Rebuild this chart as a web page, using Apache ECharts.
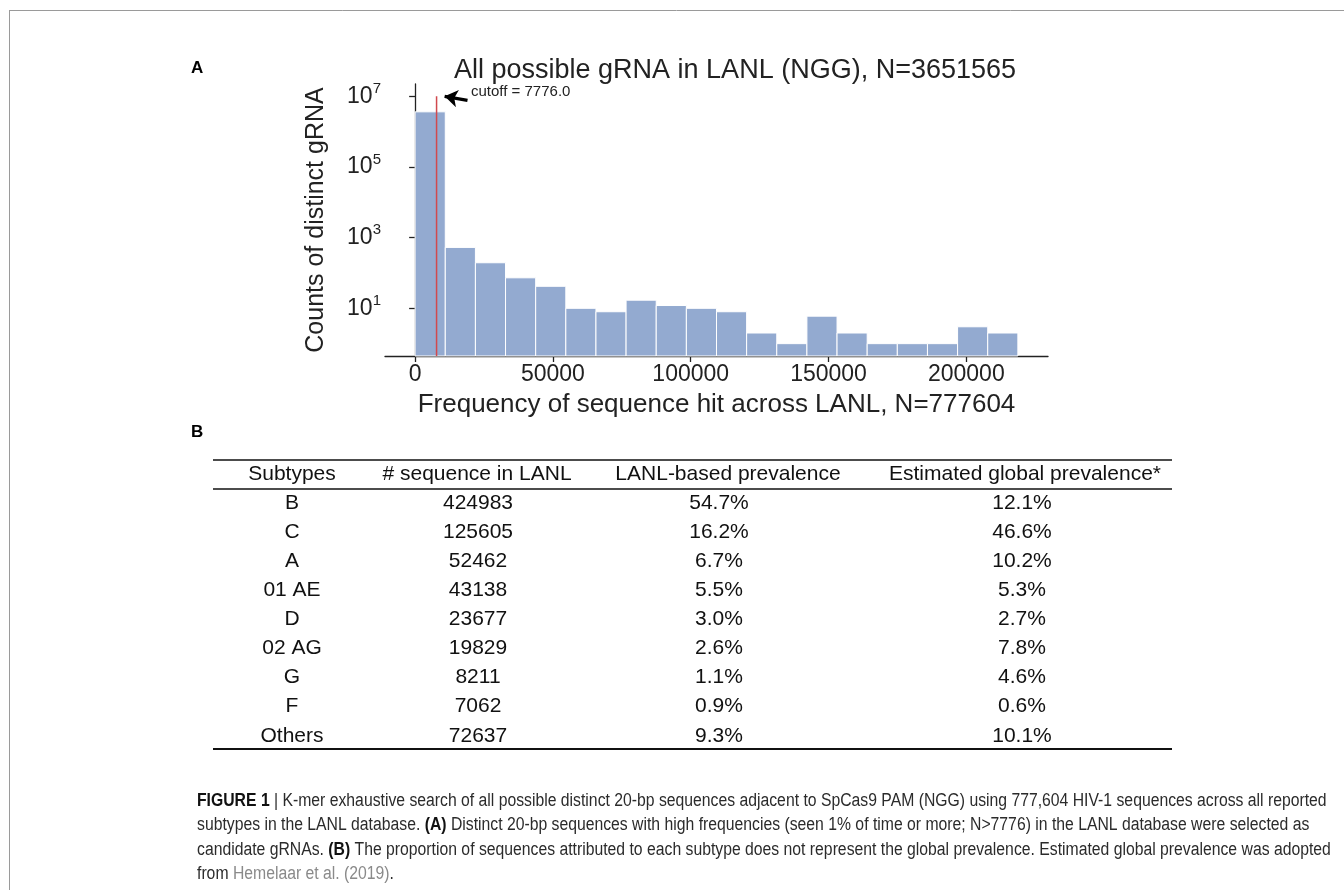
<!DOCTYPE html>
<html>
<head>
<meta charset="utf-8">
<script src="https://cdn.jsdelivr.net/npm/echarts@6/dist/echarts.min.js"></script>
<style>
html,body{margin:0;padding:0;background:#fff;}
#c{width:1344px;height:890px;}
</style>
</head>
<body>
<div id="c"></div>
<script>
// ---- Panel A: histogram data ----
const binStarts = [0, 10935, 21870, 32805, 43740, 54675, 65610, 76545, 87480, 98415,
                   109350, 120285, 131220, 142155, 153090, 164025, 174960, 185895, 196830, 207765];
const binEnds   = [10935, 21870, 32805, 43740, 54675, 65610, 76545, 87480, 98415, 109350,
                   120285, 131220, 142155, 153090, 164025, 174960, 185895, 196830, 207765, 218700];
const binCounts = [3650641, 530, 195, 73, 42, 10, 8, 17, 12, 10,
                   8, 2, 1, 6, 2, 1, 1, 1, 3, 2];
const cutoff = 7776.0;
const xTickValues = [0, 50000, 100000, 150000, 200000];
const yTickValues = [10, 1000, 100000, 10000000];

// ---- Panel B: table data ----
const tableHeader = ['Subtypes', '# sequence in LANL', 'LANL-based prevalence', 'Estimated global prevalence*'];
const subtypes   = ['B', 'C', 'A', '01 AE', 'D', '02 AG', 'G', 'F', 'Others'];
const seqCounts  = ['424983', '125605', '52462', '43138', '23677', '19829', '8211', '7062', '72637'];
const lanlPrev   = ['54.7%', '16.2%', '6.7%', '5.5%', '3.0%', '2.6%', '1.1%', '0.9%', '9.3%'];
const globalPrev = ['12.1%', '46.6%', '10.2%', '5.3%', '2.7%', '7.8%', '4.6%', '0.6%', '10.1%'];

const captionLines = [
  '{b|FIGURE 1} | K-mer exhaustive search of all possible distinct 20-bp sequences adjacent to SpCas9 PAM (NGG) using 777,604 HIV-1 sequences across all reported',
  'subtypes in the LANL database. {b|(A)} Distinct 20-bp sequences with high frequencies (seen 1% of time or more; N>7776) in the LANL database were selected as',
  'candidate gRNAs. {b|(B)} The proportion of sequences attributed to each subtype does not represent the global prevalence. Estimated global prevalence was adopted',
  'from {g|Hemelaar et al. (2019)}.'
];

// ---- layout constants ----
const FONT = '"Liberation Sans", Arial, Helvetica, sans-serif';
const X_MIN = -10935, X_MAX = 229635;
const Y_MIN = 0.447, Y_MAX = 22400000;
const TEXT = '#222222';

const histData = binStarts.map((s, i) => [s, binEnds[i], binCounts[i]]);

const chart = echarts.init(document.getElementById('c'), null, {renderer: 'canvas'});

// table graphics
const colCenters = [292, 478, 719, 1022];
const headCenters = [292, 477, 728, 1025];
const tableGraphics = [];
tableHeader.forEach((h, j) => {
  tableGraphics.push({type: 'text', x: headCenters[j], y: 474,
    style: {text: h, fontFamily: FONT, fontSize: 21, fill: '#111', align: 'center', verticalAlign: 'middle'}});
});
const tableCols = [subtypes, seqCounts, lanlPrev, globalPrev];
subtypes.forEach((s, i) => {
  tableCols.forEach((col, j) => {
    tableGraphics.push({type: 'text', x: colCenters[j], y: 503 + i * 29.1,
      style: {text: col[i], fontFamily: FONT, fontSize: 21, fill: '#111', align: 'center', verticalAlign: 'middle'}});
  });
});
[[460, 1.6], [489, 1.6], [749, 2.2]].forEach(r => {
  tableGraphics.push({type: 'line', shape: {x1: 213, y1: r[0], x2: 1172, y2: r[0]},
    style: {stroke: '#111', lineWidth: r[1]}});
});

const captionGraphics = captionLines.map((t, i) => ({
  type: 'text', x: 197, y: 801 + i * 24.4, scaleX: 0.875,
  style: {text: t, fontFamily: FONT, fontSize: 18, fill: '#2b2b2b', verticalAlign: 'middle', align: 'left',
    rich: {b: {fontFamily: FONT, fontSize: 18, fontWeight: 'bold', fill: '#111'},
           g: {fontFamily: FONT, fontSize: 18, fill: '#8a8a8a'}}}
}));

const option = {
  animation: false,
  backgroundColor: '#ffffff',
  textStyle: {fontFamily: FONT},
  grid: {left: 385, right: 296, top: 84, bottom: 534, containLabel: false},
  xAxis: {
    type: 'value', min: X_MIN, max: X_MAX,
    axisLine: {show: true, lineStyle: {color: '#222', width: 1.3}},
    axisTick: {show: true, length: 6, lineStyle: {color: '#222', width: 1.3}, customValues: xTickValues},
    axisLabel: {customValues: xTickValues, fontSize: 23, color: TEXT, margin: 7, fontFamily: FONT,
      formatter: v => String(Math.round(v))},
    splitLine: {show: false},
    name: 'Frequency of sequence hit across LANL, N=777604',
    nameLocation: 'middle', nameGap: 36,
    nameTextStyle: {fontSize: 26, color: TEXT, fontFamily: FONT}
  },
  yAxis: {
    type: 'log', logBase: 10, min: Y_MIN, max: Y_MAX,
    axisLine: {show: true, lineStyle: {color: '#222', width: 1.3}},
    axisTick: {show: true, length: 6, lineStyle: {color: '#222', width: 1.3}, customValues: yTickValues},
    axisLabel: {
      customValues: yTickValues, margin: 4, color: TEXT, fontFamily: FONT,
      formatter: v => '{b|10}{s|' + Math.round(Math.log10(v)) + '}',
      rich: {
        b: {fontSize: 23, lineHeight: 30, color: TEXT, fontFamily: FONT},
        s: {fontSize: 15, lineHeight: 14, verticalAlign: 'top', color: TEXT, fontFamily: FONT}
      }
    },
    splitLine: {show: false},
    name: 'Counts of distinct gRNA',
    nameLocation: 'middle', nameGap: 56, nameRotate: 90,
    nameTextStyle: {fontSize: 25, color: TEXT, fontFamily: FONT}
  },
  series: [
    {
      type: 'custom',
      name: 'histogram',
      data: histData,
      encode: {x: [0, 1], y: 2},
      renderItem: function (params, api) {
        const p0 = api.coord([api.value(0), api.value(2)]);
        const p1 = api.coord([api.value(1), Y_MIN]);
        return {
          type: 'rect',
          shape: {x: p0[0], y: p0[1], width: p1[0] - p0[0], height: p1[1] - p0[1]},
          style: {fill: '#93aad0', stroke: '#ffffff', lineWidth: 1}
        };
      },
      z: 2
    },
    {
      type: 'line',
      name: 'cutoff',
      data: [[cutoff, Y_MIN], [cutoff, 1e7]],
      symbol: 'none',
      lineStyle: {color: '#d1494e', width: 1.5},
      z: 5
    },
    {
      type: 'lines',
      coordinateSystem: 'cartesian2d',
      data: [{coords: [[19000, 7.7e6], [10700, 1e7]]}],
      symbol: ['none', 'arrow'],
      symbolSize: 13,
      lineStyle: {color: '#000', width: 3.2, opacity: 1},
      z: 6
    }
  ],
  graphic: [
    // outer frame
    {type: 'line', shape: {x1: 9, y1: 10.5, x2: 1344, y2: 10.5}, style: {stroke: '#9a9a9a', lineWidth: 1}},
    {type: 'line', shape: {x1: 9.5, y1: 10, x2: 9.5, y2: 890}, style: {stroke: '#9a9a9a', lineWidth: 1}},
    // panel letters
    {type: 'text', x: 191, y: 68, style: {text: 'A', fontFamily: FONT, fontSize: 17, fontWeight: 'bold', fill: '#000', verticalAlign: 'middle'}},
    {type: 'text', x: 191, y: 432, style: {text: 'B', fontFamily: FONT, fontSize: 17, fontWeight: 'bold', fill: '#000', verticalAlign: 'middle'}},
    // chart title
    {type: 'text', x: 735, y: 71, style: {text: 'All possible gRNA in LANL (NGG), N=3651565', fontFamily: FONT, fontSize: 27, fill: TEXT, align: 'center', verticalAlign: 'middle'}},
    // annotation
    {type: 'text', x: 471, y: 92, style: {text: 'cutoff = 7776.0', fontFamily: FONT, fontSize: 15, fill: TEXT, align: 'left', verticalAlign: 'middle'}}
  ].concat(tableGraphics).concat(captionGraphics)
};

chart.setOption(option);
</script>
</body>
</html>
